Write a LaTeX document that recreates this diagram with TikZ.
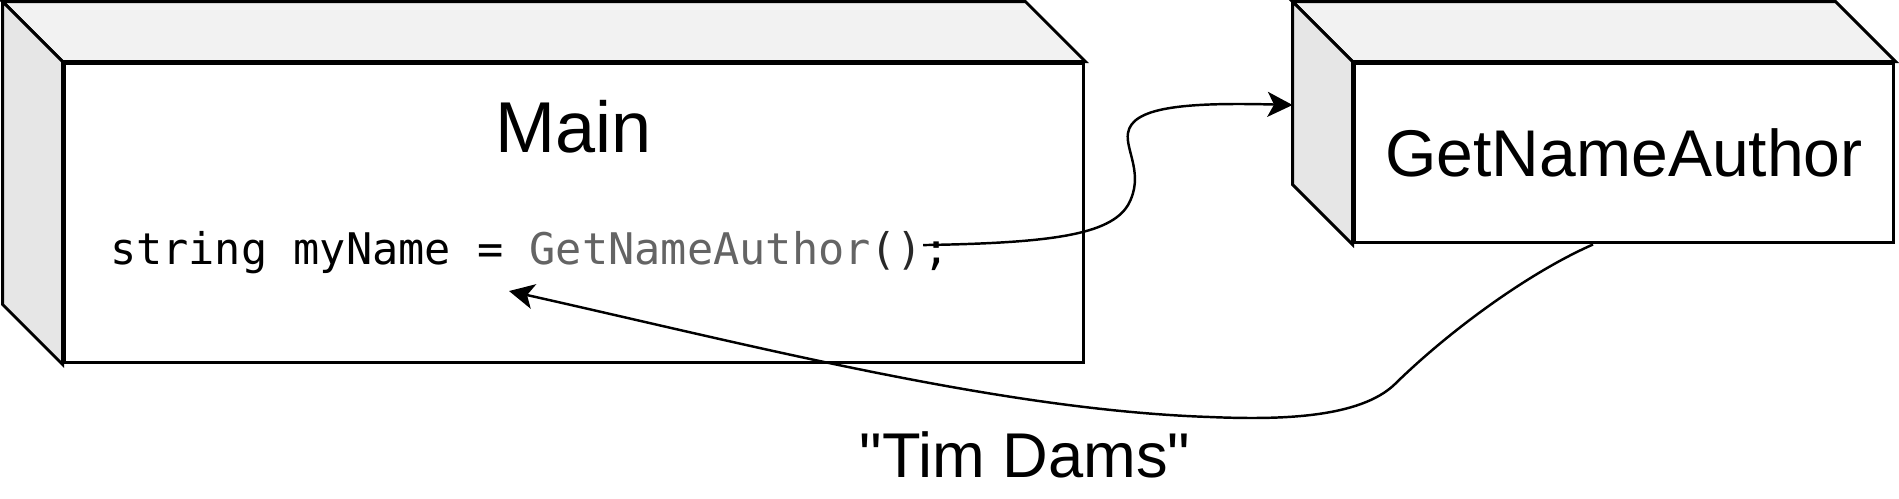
\documentclass[tikz,border=0pt]{standalone}
\usepackage{fontspec}
\setmainfont{Liberation Sans}
\setmonofont{DejaVu Sans Mono}
\usepackage{tikz}
\usetikzlibrary{arrows.meta}
\definecolor{topgray}{RGB}{242, 242, 242}
\definecolor{sidegray}{RGB}{230, 230, 230}
\definecolor{callgray}{RGB}{100, 100, 100}
\definecolor{parengray}{RGB}{40, 40, 40}

\tikzset{
	face/.style={draw=black, line width=1.7pt, fill=white, inner sep=0pt},
	topface/.style={draw=black, line width=1.7pt, fill=topgray},
	sideface/.style={draw=black, line width=1.7pt, fill=sidegray},
	code/.style={font=\ttfamily\fontsize{24.8}{30}\selectfont, inner sep=0pt, outer sep=0pt, anchor=base west},
	conn/.style={line width=1.4pt, -{Stealth[length=0.5cm, width=0.5cm, inset=0.13cm]}},
}

\begin{document}
\begin{tikzpicture}[x=0.02cm, y=-0.02cm]
			\def\dep{60}
			\useasboundingbox (0,0) rectangle (1899,498);
			
			% front faces
			\node[face, minimum width=20.4cm, minimum height=6cm] (main) at (574,213) {};
			\node[face, minimum width=10.8cm, minimum height=3.6cm, font=\fontsize{37.6}{45}\selectfont] (gna) at (1624,153) {GetNameAuthor};
			
			% Main: top and side
			\filldraw[topface] (main.north west) -- ++(-\dep,-\dep) -- ([shift={(-\dep,-\dep)}]main.north east) -- (main.north east) -- cycle;
			\filldraw[sideface] (main.north west) -- ++(-\dep,-\dep) -- ([shift={(-\dep,-\dep)}]main.south west) -- (main.south west) -- cycle;
			% GetNameAuthor: top and side
			\filldraw[topface] (gna.north west) -- ++(-\dep,-\dep) -- ([shift={(-\dep,-\dep)}]gna.north east) -- (gna.north east) -- cycle;
			\filldraw[sideface] (gna.north west) -- ++(-\dep,-\dep) -- ([shift={(-\dep,-\dep)}]gna.south west) -- (gna.south west) -- cycle;
			
			\node[font=\fontsize{41}{49}\selectfont, anchor=base] (title) at (574,152) {Main};
			
			% code line
			\node[code] (decl) at (110,264) {string myName = \textcolor{callgray}{GetNameAuthor}};
			\node[code, text=parengray] (paren) at (decl.base east) {()};
			\node[code] (semi) at (paren.base east) {;};
			
			\coordinate (gnain) at ([shift={(-\dep,-48)}]gna.west);
			\coordinate (ret) at (509,291);
			
			% call
			\draw[conn] ([yshift=3pt]paren.east) .. controls (1050,243) and (1110,235) .. (1128,205)
				.. controls (1145,175) and (1125,150) .. (1128,133)
				.. controls (1132,108) and (1180,102) .. (gnain);
			% return value
			\draw[conn] ([xshift=-0.62cm]gna.south) .. controls (1530,272) and (1450,330) .. (1395,384)
				.. controls (1360,418) and (1280,420) .. (1210,417)
				.. controls (1000,410) and (750,345) .. (ret);
			
			\node[font=\fontsize{36}{43}\selectfont] (retval) at (1025,455) {\textquotedbl Tim Dams\textquotedbl};

		\end{tikzpicture}
\end{document}
